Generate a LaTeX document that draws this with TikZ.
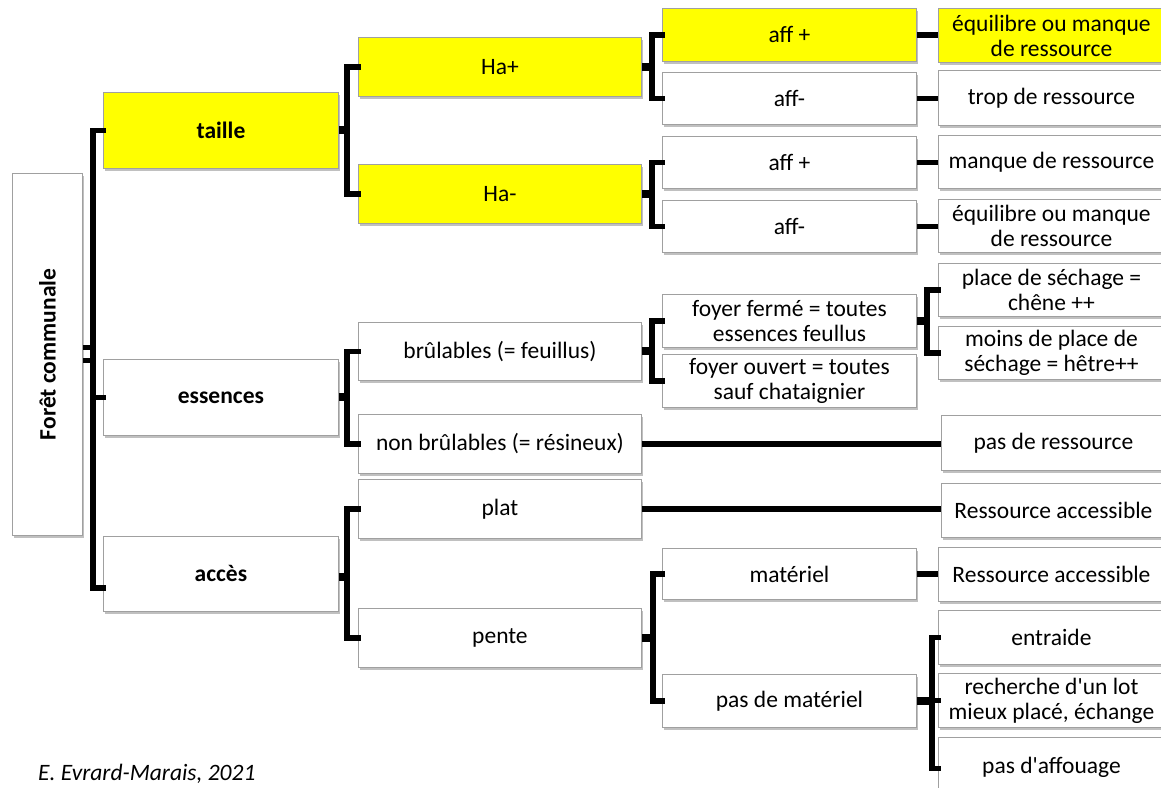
\documentclass[tikz,border=0pt]{standalone}
\usepackage{fontspec}
\setmainfont{Carlito}[Ligatures=TeXOff]
\usetikzlibrary{shadows}
\definecolor{boxyellow}{HTML}{FFFF00}
\definecolor{boxborder}{HTML}{A0A0A0}
\tikzset{
  box/.style={draw=boxborder, line width=0.9pt, fill=white, inner sep=1pt,
    align=center, anchor=north west,
    font=\fontsize{23.5}{25}\selectfont,
    drop shadow={shadow xshift=1.5pt, shadow yshift=-2.5pt, opacity=0.35, fill=black!70}},
  ybox/.style={box, fill=boxyellow},
  bbox/.style={font=\bfseries\fontsize{23.5}{25}\selectfont},
  conn/.style={line width=5.5pt, draw=black, line cap=rect},
  stub/.style={line width=8pt, draw=black},
}
\begin{document}
\begin{tikzpicture}[x=1pt,y=-1pt]
\useasboundingbox (0,0) rectangle (1161,787);
\fill[white] (0,0) rectangle (1161,787);
% root
\node[box, minimum width=70pt, minimum height=362pt] (root) at (12,173) {};
\node[font=\bfseries\fontsize{23.5}{25}\selectfont, rotate=90] (roottxt) at (root.center) {Forêt communale};
% level 1
\node[ybox, bbox, minimum width=235pt, minimum height=76pt] (taille) at (103,92) {taille};
\node[box, bbox, minimum width=235pt, minimum height=76pt] (essences) at (103,359) {essences};
\node[box, bbox, minimum width=235pt, minimum height=75pt] (acces) at (103,536) {accès};
% level 2
\node[ybox, minimum width=283pt, minimum height=59pt] (hap) at (358,37) {Ha+};
\node[ybox, minimum width=283pt, minimum height=59pt] (ham) at (358,164) {Ha-};
\node[box, minimum width=283pt, minimum height=58pt] (brul) at (358,322) {brûlables (= feuillus)};
\node[box, minimum width=283pt, minimum height=59pt] (nbrul) at (358,414) {non brûlables (= résineux)};
\node[box, minimum width=283pt, minimum height=59pt] (plat) at (358,479) {plat};
\node[box, minimum width=283pt, minimum height=59pt] (pente) at (358,608) {pente};
% level 3
\node[ybox, minimum width=254pt, minimum height=53pt] (a1) at (662,8) {aff +};
\node[box, minimum width=254pt, minimum height=52pt] (a2) at (662,72) {aff-};
\node[box, minimum width=254pt, minimum height=52pt] (a3) at (662,136) {aff +};
\node[box, minimum width=254pt, minimum height=52pt] (a4) at (662,200) {aff-};
\node[box, minimum width=254pt, minimum height=53pt] (ff) at (662,294) {foyer fermé = toutes\\essences feullus};
\node[box, minimum width=254pt, minimum height=53pt] (fo) at (662,354) {foyer ouvert = toutes\\sauf chataignier};
\node[box, minimum width=254pt, minimum height=51pt] (mat) at (662,548) {matériel};
\node[box, minimum width=254pt, minimum height=53pt] (pdm) at (662,674) {pas de matériel};
% level 4
\node[ybox, minimum width=226pt, minimum height=54pt] (r1) at (938,8) {équilibre ou manque\\de ressource};
\node[box, minimum width=226pt, minimum height=55pt] (r2) at (938,70) {trop de ressource};
\node[box, minimum width=226pt, minimum height=53pt] (r3) at (938,135) {manque de ressource};
\node[box, minimum width=226pt, minimum height=53pt] (r4) at (938,199) {équilibre ou manque\\de ressource};
\node[box, minimum width=226pt, minimum height=53pt] (s1) at (938,263) {place de séchage =\\chêne ++};
\node[box, minimum width=226pt, minimum height=53pt] (s2) at (938,326) {moins de place de\\séchage = hêtre++};
\node[box, minimum width=224pt, minimum height=55pt] (pr) at (941,415) {pas de ressource};
\node[box, minimum width=224pt, minimum height=54pt] (ra1) at (941,483) {Ressource accessible};
\node[box, minimum width=226pt, minimum height=54pt] (ra2) at (938,547) {Ressource accessible};
\node[box, minimum width=226pt, minimum height=54pt] (e1) at (938,610) {entraide};
\node[box, minimum width=226pt, minimum height=54pt] (e2) at (938,673) {recherche d'un lot\\mieux placé, échange};
\node[box, minimum width=226pt, minimum height=60pt] (e3) at (938,737) {pas d'affouage};
% caption
\node[anchor=west, inner sep=0pt, font=\itshape\fontsize{23.5}{25}\selectfont] (cap) at (38,774) {E. Evrard-Marais, 2021};

% connectors: root
\draw[conn] (taille.west) -- ++(-10,0) coordinate (rs1) |- ([yshift=-14pt]acces.west);
\draw[conn] (essences.west) -- ++(-10,0);
\draw[line width=4.5pt] ([yshift=7pt]root.east) -- ++(11,0);
\draw[line width=4.5pt] ([yshift=-6pt]root.east) -- ++(11,0);
% taille
\draw[conn] (hap.west) -- ++(-11,0) |- (ham.west);
\draw[stub] (taille.east) -- ++(9,0);
% essences
\draw[conn] (brul.west) -- ++(-11,0) |- (nbrul.west);
\draw[stub] (essences.east) -- ++(9,0);
% acces
\draw[conn] (plat.west) -- ++(-11,0) |- (pente.west);
\draw[stub] ([yshift=-3pt]acces.east) -- ++(9,0);
% Ha+
\draw[conn] (a1.west) -- ++(-10,0) |- (a2.west);
\draw[stub] (hap.east) -- ++(11,0);
% Ha-
\draw[conn] (a3.west) -- ++(-10,0) |- (a4.west);
\draw[stub] (ham.east) -- ++(11,0);
% brulables
\draw[conn] (ff.west) -- ++(-10,0) |- (fo.west);
\draw[stub] (brul.east) -- ++(11,0);
% pente
\draw[conn] (mat.west) -- ++(-9,0) |- (pdm.west);
\draw[stub] (pente.east) -- ++(12,0);
% aff -> results
\draw[conn, line cap=butt] (a1.east) -- (a1.east -| r1.west);
\draw[conn, line cap=butt] (a2.east) -- (a2.east -| r2.west);
\draw[conn, line cap=butt] (a3.east) -- (a3.east -| r3.west);
\draw[conn, line cap=butt] (a4.east) -- (a4.east -| r4.west);
% foyer ferme
\draw[conn] (s1.west) -- ++(-11,0) |- (s2.west);
\draw[stub] (ff.east) -- ++(11,0);
% long lines
\draw[conn, line cap=butt] (nbrul.east) -- (nbrul.east -| pr.west);
\draw[conn, line cap=butt] (plat.east) -- (plat.east -| ra1.west);
\draw[conn, line cap=butt] (mat.east) -- (mat.east -| ra2.west);
% pas de materiel
\draw[conn] (e1.west) -- ++(-6,0) |- ([yshift=-1pt]e3.west);
\draw[conn] (e2.west) -- ++(-6,0);
\draw[stub] (pdm.east) -- ++(16,0);
\end{tikzpicture}
\end{document}
